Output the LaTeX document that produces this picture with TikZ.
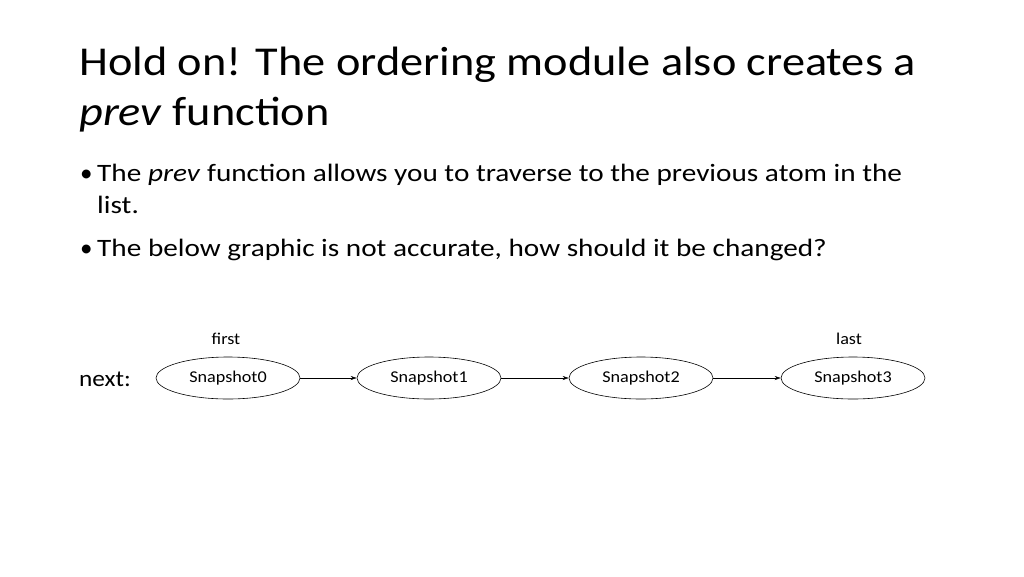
\documentclass[tikz,border=0pt]{standalone}
\usepackage{fontspec}
\setmainfont{Carlito}
\usetikzlibrary{arrows.meta,shapes.geometric}
\begin{document}
\begin{tikzpicture}[x=1pt,y=-1pt,
  snap/.style={draw,ellipse,line width=0.6pt,minimum width=144pt,minimum height=42pt,inner sep=0pt},
  stxt/.style={font=\fontsize{16.5}{19}\selectfont,xscale=1.1},
  lbl/.style={font=\fontsize{16.5}{19}\selectfont,xscale=1.1},
  conn/.style={-{Stealth[length=6pt,width=4pt]},line width=0.5pt}]
\useasboundingbox (0,0) rectangle (1024,576);
\node[anchor=base west,inner sep=0pt,font=\fontsize{41}{48}\selectfont,xscale=1.13] (t1) at (79,75) {Hold on! The ordering module also creates a};
\node[anchor=base west,inner sep=0pt,font=\fontsize{41}{48}\selectfont,xscale=1.13] (t2) at (79,125) {\textit{prev} function};
\node[anchor=base west,inner sep=0pt,font=\fontsize{25}{29}\selectfont] (d1) at (80,181) {•};
\node[anchor=base west,inner sep=0pt,font=\fontsize{25}{29}\selectfont,xscale=1.17] (b1) at (97,181) {The \textit{prev} function allows you to traverse to the previous atom in the};
\node[anchor=base west,inner sep=0pt,font=\fontsize{25}{29}\selectfont,xscale=1.17] (b1b) at (97,213) {list.};
\node[anchor=base west,inner sep=0pt,font=\fontsize{25}{29}\selectfont] (d2) at (80,256) {•};
\node[anchor=base west,inner sep=0pt,font=\fontsize{25}{29}\selectfont,xscale=1.17] (b2) at (97,256) {The below graphic is not accurate, how should it be changed?};
\node[snap] (s0) at (228,378) {};
\node[snap] (s1) at (429,378) {};
\node[snap] (s2) at (641,378) {};
\node[snap] (s3) at (853,378) {};
\node[stxt] (l0) at (s0) {Snapshot0};
\node[stxt] (l1) at (s1) {Snapshot1};
\node[stxt] (l2) at (s2) {Snapshot2};
\node[stxt] (l3) at (s3) {Snapshot3};
\node[lbl] (first) at (226,339) {first};
\node[lbl] (last) at (849,339) {last};
\node[font=\fontsize{23}{26}\selectfont,xscale=1.1] (next) at (105,379) {next:};
\draw[conn] (s0) -- (s1);
\draw[conn] (s1) -- (s2);
\draw[conn] (s2) -- (s3);
\end{tikzpicture}
\end{document}
